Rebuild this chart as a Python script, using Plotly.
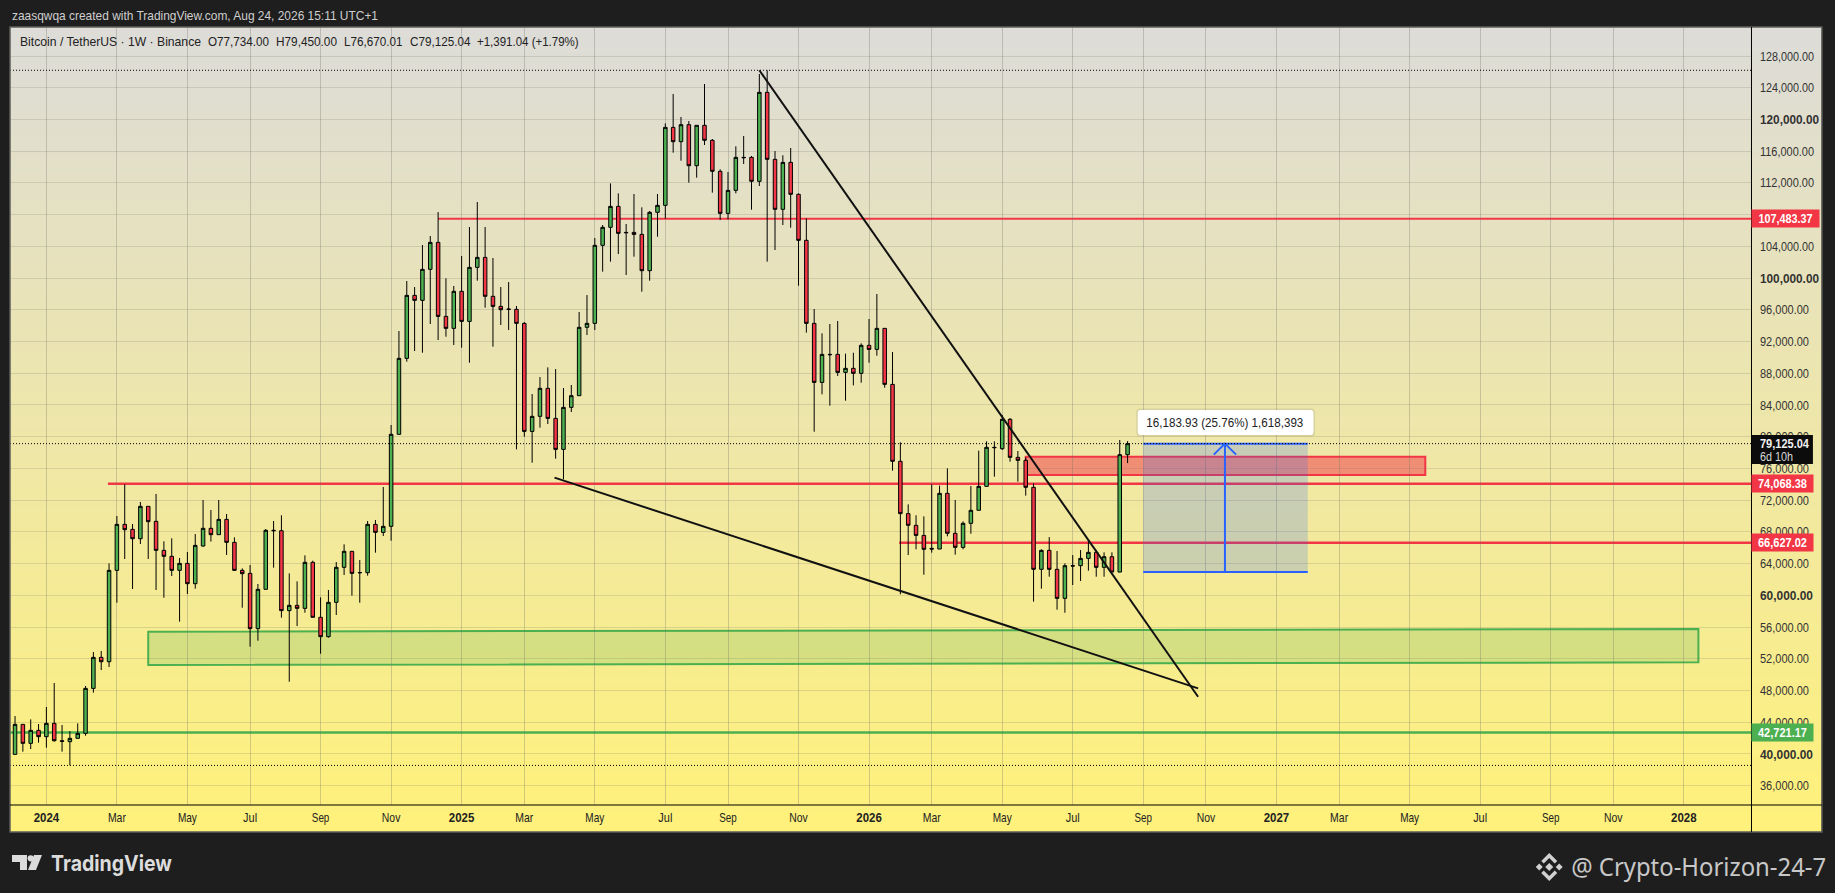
import json
import plotly.graph_objects as go

# ---------- data ----------
dates = """2023-12-04 2023-12-11 2023-12-18 2023-12-25
2024-01-01 2024-01-08 2024-01-15 2024-01-22 2024-01-29 2024-02-05 2024-02-12 2024-02-19 2024-02-26
2024-03-04 2024-03-11 2024-03-18 2024-03-25 2024-04-01 2024-04-08 2024-04-15 2024-04-22 2024-04-29
2024-05-06 2024-05-13 2024-05-20 2024-05-27 2024-06-03 2024-06-10 2024-06-17 2024-06-24
2024-07-01 2024-07-08 2024-07-15 2024-07-22 2024-07-29 2024-08-05 2024-08-12 2024-08-19 2024-08-26
2024-09-02 2024-09-09 2024-09-16 2024-09-23 2024-09-30 2024-10-07 2024-10-14 2024-10-21 2024-10-28
2024-11-04 2024-11-11 2024-11-18 2024-11-25 2024-12-02 2024-12-09 2024-12-16 2024-12-23 2024-12-30
2025-01-06 2025-01-13 2025-01-20 2025-01-27 2025-02-03 2025-02-10 2025-02-17 2025-02-24
2025-03-03 2025-03-10 2025-03-17 2025-03-24 2025-03-31 2025-04-07 2025-04-14 2025-04-21 2025-04-28
2025-05-05 2025-05-12 2025-05-19 2025-05-26 2025-06-02 2025-06-09 2025-06-16 2025-06-23 2025-06-30
2025-07-07 2025-07-14 2025-07-21 2025-07-28 2025-08-04 2025-08-11 2025-08-18 2025-08-25
2025-09-01 2025-09-08 2025-09-15 2025-09-22 2025-09-29 2025-10-06 2025-10-13 2025-10-20 2025-10-27
2025-11-03 2025-11-10 2025-11-17 2025-11-24 2025-12-01 2025-12-08 2025-12-15 2025-12-22 2025-12-29
2026-01-05 2026-01-12 2026-01-19 2026-01-26 2026-02-02 2026-02-09 2026-02-16 2026-02-23
2026-03-02 2026-03-09 2026-03-16 2026-03-23 2026-03-30 2026-04-06 2026-04-13 2026-04-20 2026-04-27
2026-05-04 2026-05-11 2026-05-18 2026-05-25 2026-06-01 2026-06-08 2026-06-15 2026-06-22 2026-06-29
2026-07-06 2026-07-13 2026-07-20 2026-07-27 2026-08-03 2026-08-10 2026-08-17 2026-08-24""".split()

opens = [39950, 43730, 41340, 42980, 42180, 43860, 41670, 41550, 41970, 42600,
         48270, 52180, 51630, 63150, 68950, 68320, 67140, 71220, 69330, 65670,
         64920, 63150, 64030, 61470, 66220, 68450, 67650, 69580, 66680, 63150,
         62770, 55800, 60760, 68200, 68150, 58070, 58740, 58360, 64160, 57230,
         54790, 59120, 63530, 65550, 62880, 62850, 68950, 67940, 68700, 80300,
         89880, 97820, 97190, 101100, 104500, 95170, 93660, 98330, 94540, 101350,
         102610, 97700, 96430, 96100, 96060, 94290, 80670, 82570, 86100, 82310,
         78400, 83700, 85170, 93790, 94290, 104130, 106400, 109040, 105760, 105760,
         105510, 100930, 108290, 109170, 119000, 117200, 119340, 114170, 119260, 117370,
         113460, 108160, 111060, 115220, 115220, 112200, 123420, 114970, 108670, 114590,
         110560, 104760, 94290, 86850, 90380, 90380, 88110, 88620, 87990, 91520,
         91010, 93660, 86600, 76900, 70300, 68830, 67560, 65920, 65840, 72860,
         67820, 66050, 69080, 70720, 73740, 78660, 78490, 82190, 77400, 77020,
         73620, 63280, 65670, 63280, 59620, 63740, 63740, 64660, 65420, 63530,
         64870, 62940, 77734]
highs = [44780, 43730, 44360, 43780, 45920, 48950, 43650, 42890, 43860, 48570,
         52850, 52980, 64030, 70000, 74000, 68990, 71770, 71220, 72780, 66810,
         67190, 64710, 65460, 67730, 72020, 70760, 72020, 70250, 67310, 63400,
         63820, 61430, 68360, 69370, 70090, 62770, 61760, 65040, 64370, 59750,
         60670, 64200, 66430, 65550, 64450, 69370, 69500, 73660, 81470, 93320,
         99630, 98870, 104170, 105300, 108330, 99970, 99000, 102780, 106440, 109590,
         106440, 102530, 98870, 99500, 96480, 94460, 85380, 87520, 88740, 88530,
         86140, 86520, 95720, 97860, 105050, 106690, 111940, 110680, 106820, 110600,
         108920, 108460, 110600, 119510, 123210, 120310, 119800, 119260, 124470, 117530,
         113710, 113370, 116610, 117910, 115390, 125730, 126200, 116020, 115480, 116400,
         110680, 107530, 96100, 93030, 94210, 94590, 90470, 90590, 91770, 94840,
         97990, 93660, 90680, 79290, 71470, 70090, 69960, 74000, 73830, 76010,
         72020, 69330, 73780, 78240, 79420, 79420, 82730, 82360, 78200, 77400,
         74120, 65800, 67350, 65590, 64030, 65080, 65710, 66980, 65710, 65420,
         65420, 79580, 79450]
lows = [39950, 40290, 40620, 41420, 40790, 41550, 40290, 38560, 41970, 42300,
        47730, 50580, 50960, 59070, 64580, 60800, 66470, 64580, 60670, 59700,
        62440, 56680, 60170, 60840, 66130, 66770, 67650, 65090, 63070, 58440,
        53530, 54280, 60760, 63490, 57180, 49110, 56130, 57810, 57220, 52640,
        54660, 57520, 62560, 59960, 59070, 62480, 65380, 67480, 66890, 80300,
        89460, 90800, 90590, 94210, 92190, 92610, 91560, 91220, 89330, 99670,
        96270, 91350, 94080, 93450, 78400, 80000, 76720, 81140, 81600, 77230,
        74620, 83110, 85170, 92820, 93450, 100810, 102070, 103030, 100390, 102700,
        98280, 99670, 105220, 107490, 115810, 114800, 112030, 112660, 116780, 110770,
        107320, 107400, 110680, 114380, 108620, 111610, 102070, 103540, 106690, 106350,
        99040, 93120, 80630, 85340, 83910, 87650, 84540, 86470, 86810, 89330,
        90210, 86180, 75720, 60130, 65080, 65800, 62600, 65380, 65840, 67440,
        65130, 65800, 67770, 70720, 73740, 74960, 78320, 76850, 74330, 72570,
        59200, 60840, 62350, 58190, 57810, 61300, 61810, 63110, 62350, 62350,
        62900, 62900, 76670.01]
closes = [43730, 41340, 42980, 42180, 43860, 41670, 41590, 41970, 42600, 48270,
          52180, 51630, 63150, 68950, 68280, 67140, 71220, 69290, 65670, 64920,
          63150, 64030, 61470, 66300, 68450, 67650, 69580, 66680, 63150, 62730,
          55800, 60760, 68200, 68150, 58070, 58740, 58360, 64160, 57230, 54790,
          59120, 63530, 65550, 62770, 62850, 68950, 67940, 68700, 80300, 89880,
          97820, 97190, 101100, 104500, 95170, 93660, 98330, 94540, 101350, 102610,
          97700, 96430, 96010, 96060, 94290, 80670, 82570, 86100, 82310, 78400,
          83700, 85170, 93790, 94290, 104130, 106400, 109040, 105640, 105720, 105510,
          100930, 108290, 109170, 119000, 117200, 119340, 114170, 119260, 117370, 113460,
          108160, 111060, 115220, 115180, 112200, 123420, 114970, 108670, 114590, 110560,
          104760, 94290, 86850, 90380, 90340, 88110, 88620, 87990, 91520, 91010,
          93660, 86600, 76900, 70300, 68830, 67560, 65800, 65840, 72860, 67820,
          66050, 69080, 70720, 73740, 78660, 78620, 82190, 77400, 77020, 73620,
          63280, 65670, 63280, 59620, 63740, 63700, 64660, 65420, 63530, 64870,
          62940, 77734, 79125.04]

price_ticks = [128000, 124000, 120000, 116000, 112000, 108000, 104000, 100000, 96000, 92000,
               88000, 84000, 80000, 76000, 72000, 68000, 64000, 60000, 56000, 52000,
               48000, 44000, 40000, 36000]
round_prices = [120000, 100000, 60000, 40000]

time_ticks = ["2024-01-01", "2024-03-04", "2024-05-06", "2024-07-01", "2024-09-02", "2024-11-04",
              "2025-01-06", "2025-03-03", "2025-05-05", "2025-07-07", "2025-09-01", "2025-11-03",
              "2026-01-05", "2026-03-02", "2026-05-04", "2026-07-06", "2026-09-07", "2026-11-02",
              "2027-01-04", "2027-03-01", "2027-05-03", "2027-07-05", "2027-09-06", "2027-11-01",
              "2028-01-03"]
time_labels = ["2024", "Mar", "May", "Jul", "Sep", "Nov", "2025", "Mar", "May", "Jul", "Sep", "Nov",
               "2026", "Mar", "May", "Jul", "Sep", "Nov", "2027", "Mar", "May", "Jul", "Sep", "Nov", "2028"]
x_start, x_end = "2023-11-29 12:00", "2028-03-03"
y_low, y_high = 33566, 131656

level_prices = [107483.37, 74068.38, 66627.02, 42721.17]
level_starts = ["2024-12-16", "2024-02-25", "2026-02-01", x_start]
level_labels = ["107,483.37", "74,068.38", "66,627.02", "42,721.17"]
last_price, top_price, bottom_price = 79125.04, 126200.0, 38555.0

red_zone_x = ["2026-05-25", "2027-05-17"]
red_zone_y = [75171, 77483]
green_zone_x = ["2024-04-01", "2028-01-16", "2028-01-16", "2024-04-01"]
green_zone_y = [55417, 55754, 51551, 51215]

fall_x = ["2025-09-29", "2026-10-26"]
fall_y = [126200, 47221]
wedge_x = ["2025-03-30", "2026-10-26"]
wedge_y = [74836, 48272]

measure_x = ["2026-09-07", "2027-02-01"]
measure_low = 62941.11
arrow_x = "2026-11-19"
chevron_x = ["2026-11-09", "2026-11-19", "2026-11-29"]
chevron_y = [77740, 79125.04, 77740]
measure_text = "16,183.93 (25.76%) 1,618,393"
measure_label_y = 81792

# ---------- page geometry ----------
W, H = 1835, 893
L, R, T, B = 10, 1753, 27, 805
FONT = "Liberation Sans, sans-serif"
GREEN, RED, BLUE = "#4CAF50", "#F23645", "#2962FF"
# rendered widths (px) that the narrow reference type occupies
fit = {"Mar": 18, "May": 19, "Jul": 14, "Sep": 17.5, "Nov": 18.5}
side = {}
for t in time_labels:
    if t.isdigit():
        fit[t] = 25.5
for v in price_ticks:
    s = f"{v:,.2f}"
    fit[s] = (59 if v >= 100000 else 53) if v in round_prices else (54 if v >= 100000 else 49)
for s in level_labels:
    fit[s] = 54 if len(s) > 9 else 49


def px(v):
    return (v - L) / (R - L)


def py(v):
    return 1 - (v - T) / (B - T)


shapes = []
# gradient background of the chart panel
for k in range(161):
    f = k / 160
    col = f"rgb({221 + 34 * f:.0f},{220 + 21 * f:.0f},{216 - 94 * f:.0f})"
    y0 = T + 5 * k
    shapes.append(dict(type="rect", xref="paper", yref="paper", layer="below", line_width=0, fillcolor=col,
                       x0=px(L), x1=px(1824), y0=py(y0), y1=py(min(y0 + 6, 832))))

# horizontal levels and zones sit behind the candles
for price, start, colour, lw in zip(level_prices, level_starts, [RED, RED, RED, GREEN], [1.8, 2.5, 2.5, 2.5]):
    shapes.append(dict(type="line", xref="x", yref="y", layer="below", x0=start, x1=x_end, y0=price, y1=price,
                       line=dict(color=colour, width=lw)))
shapes.append(dict(type="rect", xref="x", yref="y", layer="below", x0=red_zone_x[0], x1=red_zone_x[1],
                   y0=red_zone_y[0], y1=red_zone_y[1], fillcolor="rgba(242,54,69,0.5)",
                   line=dict(color=RED, width=2)))
green_path = "M " + " L ".join(f"{a} {b}" for a, b in zip(green_zone_x, green_zone_y)) + " Z"
shapes.append(dict(type="path", xref="x", yref="y", layer="below", path=green_path,
                   fillcolor="rgba(76,175,80,0.2)", line=dict(color=GREEN, width=2)))

# panel frame and axis rules
shapes.append(dict(type="rect", xref="paper", yref="paper", x0=px(L), x1=px(1824), y0=py(T), y1=py(832),
                   line=dict(color="#5e5e58", width=1.5)))
shapes.append(dict(type="line", xref="paper", yref="paper", x0=px(1753.5), x1=px(1753.5), y0=py(T), y1=py(832),
                   line=dict(color="#000000", width=1)))
shapes.append(dict(type="line", xref="paper", yref="paper", x0=px(L), x1=px(1824), y0=py(805), y1=py(805),
                   line=dict(color="#000000", width=1)))
# panel behind the last-price tag
shapes.append(dict(type="rect", xref="paper", yref="paper", x0=px(1754), x1=px(1815), y0=py(435), y1=py(464),
                   fillcolor="#0C0C0C", line_width=0))


def rounded(x0, y0, x1, y1, r, colour):
    c = [(x0 + r, y0), (x1 - r, y0), (x1, y0), (x1, y0 + r), (x1, y1 - r), (x1, y1), (x1 - r, y1), (x0 + r, y1),
         (x0, y1), (x0, y1 - r), (x0, y0 + r), (x0, y0), (x0 + r, y0)]
    p = [f"{px(a)} {py(b)}" for a, b in c]
    path = (f"M {p[0]} L {p[1]} Q {p[2]} {p[3]} L {p[4]} Q {p[5]} {p[6]} L {p[7]} Q {p[8]} {p[9]} "
            f"L {p[10]} Q {p[11]} {p[12]} Z")
    shapes.append(dict(type="path", xref="paper", yref="paper", path=path, fillcolor=colour, line_width=0))


# white label of the measuring tool with a soft edge
rounded(1137.5, 408.5, 1316.5, 436.5, 4, "rgba(120,120,100,0.18)")
rounded(1139, 410, 1315, 435, 3, "#FFFFFF")


def poly(points, colour):
    path = "M " + " L ".join(f"{px(a)} {py(b)}" for a, b in points) + " Z"
    shapes.append(dict(type="path", xref="paper", yref="paper", path=path, fillcolor=colour, line_width=0))


# TradingView mark
poly([(12, 855), (27, 855), (27, 870), (20, 870), (20, 862), (12, 862)], "#DCDCDC")
poly([(34, 855), (42, 855), (36, 870), (28, 870)], "#DCDCDC")
shapes.append(dict(type="circle", xref="paper", yref="paper", x0=px(27.6), x1=px(33.8), y0=py(855.2), y1=py(861.4),
                   fillcolor="#DCDCDC", line_width=0))
# Binance mark
cx, cy = 1551, 867
poly([(cx - 4, cy), (cx, cy - 4), (cx + 4, cy), (cx, cy + 4)], "#D0D0D0")
poly([(cx - 13.5, cy), (cx - 10, cy - 3.5), (cx - 6.5, cy), (cx - 10, cy + 3.5)], "#D0D0D0")
poly([(cx + 13.5, cy), (cx + 10, cy - 3.5), (cx + 6.5, cy), (cx + 10, cy + 3.5)], "#D0D0D0")
poly([(cx, cy - 14), (cx + 8, cy - 6), (cx + 5.5, cy - 3.5), (cx, cy - 9), (cx - 5.5, cy - 3.5), (cx - 8, cy - 6)], "#D0D0D0")
poly([(cx, cy + 14), (cx + 8, cy + 6), (cx + 5.5, cy + 3.5), (cx, cy + 9), (cx - 5.5, cy + 3.5), (cx - 8, cy + 6)], "#D0D0D0")

fig = go.Figure()
fig.add_trace(go.Candlestick(
    x=dates, open=opens, high=highs, low=lows, close=closes, whiskerwidth=0,
    increasing=dict(fillcolor=GREEN, line=dict(color="#000000", width=1)),
    decreasing=dict(fillcolor=RED, line=dict(color="#000000", width=1)),
    showlegend=False, hoverinfo="skip"))


def line(x, y, colour, width=2.0, dash="solid", fill=None, fillcolor=None):
    fig.add_trace(go.Scatter(x=x, y=y, mode="lines", line=dict(color=colour, width=width, dash=dash), fill=fill,
                             fillcolor=fillcolor, showlegend=False, hoverinfo="skip"))


# measuring tool
line([measure_x[0], measure_x[1], measure_x[1], measure_x[0], measure_x[0]],
     [last_price, last_price, measure_low, measure_low, last_price],
     "rgba(0,0,0,0)", 0, fill="toself", fillcolor="rgba(41,98,255,0.2)")
line(measure_x, [last_price, last_price], BLUE)
line(measure_x, [measure_low, measure_low], BLUE)
line([arrow_x, arrow_x], [measure_low, last_price], BLUE)
line(chevron_x, chevron_y, BLUE)
# trend lines
line(fall_x, fall_y, "#111111")
line(wedge_x, wedge_y, "#111111")
# dotted extremes and last price
for price in (top_price, last_price, bottom_price):
    line([x_start, x_end], [price, price], "#000000", 1, "1px,2px")

anns = []


def text(s, x, y, width, size=13, colour="#222222", anchor="left", family=FONT):
    key = s.replace("<b>", "").replace("</b>", "")
    fit[key] = width
    side[key] = -1 if anchor == "left" else 1
    anns.append(dict(text=s, xref="paper", yref="paper", x=px(x), y=py(y), xanchor=anchor, yanchor="middle",
                     showarrow=False, font=dict(family=family, size=size, color=colour)))


text("zaasqwqa created with TradingView.com, Aug 24, 2026 15:11 UTC+1", 10, 15, 366, 13, "#cfcfcf")
text("Bitcoin / TetherUS · 1W · Binance", 18, 41.5, 181)
for s, x, w in [("O77,734.00", 206, 61), ("H79,450.00", 274, 61), ("L76,670.01", 342, 58.5), ("C79,125.04", 408, 60.5),
                ("+1,391.04 (+1.79%)", 475.7, 101.6)]:
    text(s, x, 41.5, w)
text("<b>TradingView</b>", 49, 863, 121, 22, "#DCDCDC", family="Inter, Roboto, sans-serif")
text("@ Crypto-Horizon-24-7", 1830, 866, 255, 25, "#C8C8C8", "right", "Noto Sans, sans-serif")

for price, label, colour, w in zip(level_prices, level_labels, [RED, RED, RED, GREEN], [67, 61, 61, 61]):
    anns.append(dict(text=f"<b>{label}</b>", xref="paper", yref="y", x=1, y=price, xanchor="left", yanchor="middle",
                     showarrow=False, bgcolor=colour, width=w, height=17, borderpad=0,
                     font=dict(family=FONT, size=13, color="#FFFFFF")))
fit["79,125.04"] = 49
side["79,125.04"] = -1
fit["6d 10h"] = 33
side["6d 10h"] = -1
anns.append(dict(text="<b>79,125.04</b>", xref="paper", yref="y", x=1, xshift=8, y=last_price,
                 xanchor="left", yanchor="middle", showarrow=False, borderpad=0,
                 font=dict(family=FONT, size=13, color="#F0F0F0")))
anns.append(dict(text="6d 10h", xref="paper", yref="y", x=1, xshift=8, y=last_price, yshift=-12.5,
                 xanchor="left", yanchor="middle", showarrow=False, borderpad=0,
                 font=dict(family=FONT, size=13, color="#D8D8D8")))
fit[measure_text] = 157
anns.append(dict(text=measure_text, x=arrow_x, y=measure_label_y, xref="x", yref="y", showarrow=False,
                 font=dict(family=FONT, size=13, color="#222222")))

fig.update_layout(
    width=W, height=H, autosize=False,
    margin=dict(l=L, r=W - R, t=T, b=H - B, pad=0),
    paper_bgcolor="#1E1E1E", plot_bgcolor="rgba(0,0,0,0)",
    boxgap=0.36, showlegend=False, hovermode=False,
    shapes=shapes, annotations=anns,
    font=dict(family=FONT, size=13, color="#222222"),
    xaxis=dict(type="date", range=[x_start, x_end], rangeslider=dict(visible=False), tickmode="array",
               tickvals=time_ticks,
               ticktext=[f"<b>{t}</b>" if t.isdigit() else t for t in time_labels],
               showgrid=True, gridcolor="rgba(110,110,100,0.3)", gridwidth=1, zeroline=False, showline=False,
               ticks="", tickfont=dict(family=FONT, size=13, color="#222222"), ticklabelstandoff=3),
    yaxis=dict(side="right", range=[y_low, y_high], tickmode="array", tickvals=price_ticks,
               ticktext=[(f"<b>{v:,.2f}</b>" if v in round_prices else f"{v:,.2f}") for v in price_ticks],
               showgrid=True, gridcolor="rgba(110,110,100,0.2)", gridwidth=1, zeroline=False, showline=False,
               ticks="", tickfont=dict(family=FONT, size=13, color="#333333"), ticklabelstandoff=8),
)

narrow = """
var FIT = %s, SIDE = %s;
function narrowText() {
  document.querySelectorAll('.ytick text, .xtick text, .annotation-text').forEach(function (el) {
    var t = el.textContent;
    if (t in FIT && !el.hasAttribute('textLength')) {
      var natural = el.getComputedTextLength();
      if (t in SIDE && el.classList.contains('annotation-text')) {
        el.setAttribute('x', parseFloat(el.getAttribute('x')) + SIDE[t] * (natural - FIT[t]) / 2);
      }
      el.setAttribute('lengthAdjust', 'spacingAndGlyphs');
      el.setAttribute('textLength', FIT[t]);
    }
  });
}
document.body.style.margin = '0';
document.body.style.overflow = 'hidden';
document.body.style.background = '#1E1E1E';
narrowText();
setTimeout(narrowText, 0);
setTimeout(narrowText, 300);
""" % (json.dumps(fit), json.dumps(side))

fig.write_html("out.html", config={"displayModeBar": False}, post_script=narrow)
